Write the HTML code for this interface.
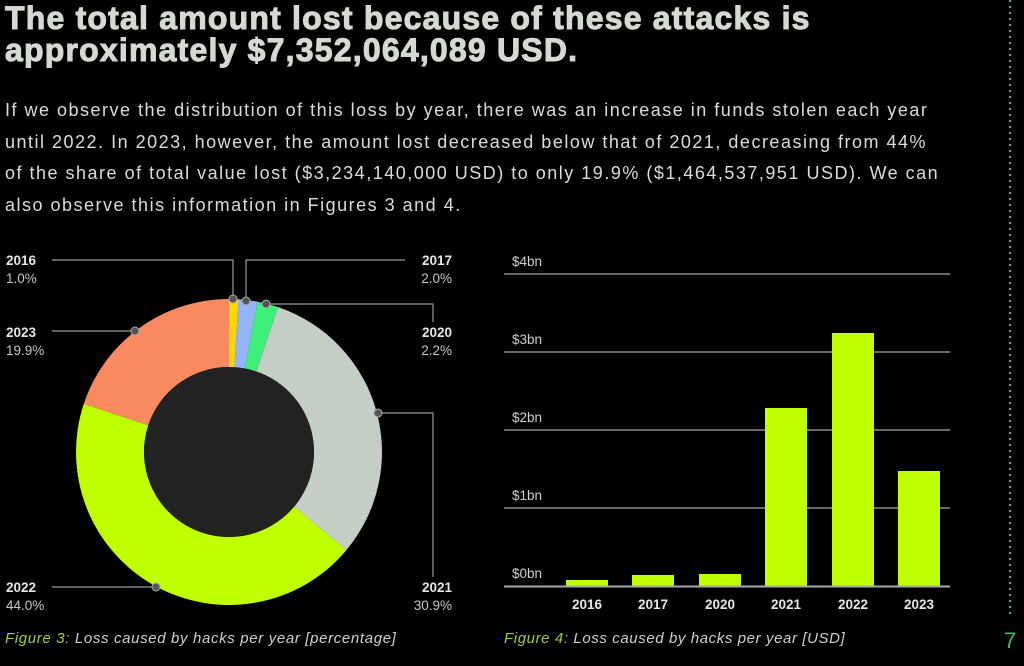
<!DOCTYPE html>
<html><head><meta charset="utf-8"><style>
body{margin:0;width:1024px;height:666px;background:#000;overflow:hidden;position:relative;font-family:"Liberation Sans",sans-serif}
h1{position:absolute;left:5px;top:2px;margin:0;font-size:32px;line-height:32px;font-weight:900;color:#d4d9d2;letter-spacing:1.2px;-webkit-text-stroke:1px #d4d9d2;white-space:nowrap}
p{position:absolute;left:5px;top:95px;margin:0;width:1000px;font-size:18px;line-height:31.5px;color:#dcdcdc;letter-spacing:1.5px;white-space:nowrap}
svg{position:absolute;left:0;top:0}
</style></head><body>
<h1>The total amount lost because of these attacks is<br>approximately $7,352,064,089 USD.</h1>
<p>If we observe the distribution of this loss by year, there was an increase in funds stolen each year<br>until 2022. In 2023, however, the amount lost decreased below that of 2021, decreasing from 44%<br>of the share of total value lost ($3,234,140,000 USD) to only 19.9% ($1,464,537,951 USD). We can<br>also observe this information in Figures 3 and 4.</p>
<svg width="1024" height="666" font-family="Liberation Sans, sans-serif">
<line x1="1010" y1="0" x2="1010" y2="615" stroke="#3fbf5a" stroke-width="2" stroke-dasharray="2 4"/>
<text x="1010" y="648" fill="#3fbf5a" font-size="22" text-anchor="middle">7</text>
<path d="M229,299 A153,153 0 0 1 238.6,299.3 L234.3,367.2 A85,85 0 0 0 229,367 Z" fill="#ffd800"/>
<path d="M238.6,299.3 A153,153 0 0 1 257.7,301.7 L244.9,368.5 A85,85 0 0 0 234.3,367.2 Z" fill="#94b4f8"/>
<path d="M257.7,301.7 A153,153 0 0 1 278.1,307.1 L256.3,371.5 A85,85 0 0 0 244.9,368.5 Z" fill="#3ef07a"/>
<path d="M278.1,307.1 A153,153 0 0 1 346.4,550.1 L294.2,506.5 A85,85 0 0 0 256.3,371.5 Z" fill="#c5cec5"/>
<path d="M346.4,550.1 A153,153 0 0 1 83.8,403.8 L148.3,425.2 A85,85 0 0 0 294.2,506.5 Z" fill="#bfff00"/>
<path d="M83.8,403.8 A153,153 0 0 1 229,299 L229,367 A85,85 0 0 0 148.3,425.2 Z" fill="#f98a60"/>
<circle cx="229" cy="452" r="85" fill="#222"/>
<g stroke="#999" stroke-width="1.2" fill="none">
<polyline points="52,260 233,260 233,299"/>
<polyline points="405,260 246,260 246,301"/>
<polyline points="266,304 433,304 433,322"/>
<polyline points="52,331 135,331"/>
<polyline points="378,413 433,413 433,577"/>
<polyline points="52,587 156,587"/>
</g>
<g fill="#555" stroke="#aaa" stroke-width="1">
<circle cx="233" cy="299" r="4"/><circle cx="246" cy="301" r="4"/><circle cx="266" cy="304" r="4"/>
<circle cx="135" cy="331" r="4"/><circle cx="378" cy="413" r="4"/><circle cx="156" cy="587" r="4"/>
</g>
<g font-size="13.5" fill="#e6e6e6">
<text x="6" y="265" font-weight="bold">2016</text><text x="6" y="283" fill="#c8c8c8">1.0%</text>
<text x="452" y="265" font-weight="bold" text-anchor="end">2017</text><text x="452" y="283" fill="#c8c8c8" text-anchor="end">2.0%</text>
<text x="6" y="337" font-weight="bold">2023</text><text x="6" y="355" fill="#c8c8c8">19.9%</text>
<text x="452" y="337" font-weight="bold" text-anchor="end">2020</text><text x="452" y="355" fill="#c8c8c8" text-anchor="end">2.2%</text>
<text x="6" y="592" font-weight="bold">2022</text><text x="6" y="610" fill="#c8c8c8">44.0%</text>
<text x="452" y="592" font-weight="bold" text-anchor="end">2021</text><text x="452" y="610" fill="#c8c8c8" text-anchor="end">30.9%</text>
</g>
<text x="5" y="643" font-size="15" font-style="italic" fill="#d0d0d0" letter-spacing="0.65"><tspan fill="#9fd12c">Figure 3:</tspan> Loss caused by hacks per year [percentage]</text>
<text x="504" y="643" font-size="15" font-style="italic" fill="#d0d0d0" letter-spacing="0.6"><tspan fill="#9fd12c">Figure 4:</tspan> Loss caused by hacks per year [USD]</text>
<g stroke="#8a8a8a" stroke-width="1.5">
<line x1="504" y1="274" x2="950" y2="274"/><line x1="504" y1="352" x2="950" y2="352"/>
<line x1="504" y1="430" x2="950" y2="430"/><line x1="504" y1="508" x2="950" y2="508"/>
</g>
<g font-size="13.5" fill="#d0d0d0">
<text x="512" y="266">$4bn</text><text x="512" y="344">$3bn</text><text x="512" y="422">$2bn</text><text x="512" y="500">$1bn</text><text x="512" y="578">$0bn</text>
</g>
<g fill="#bfff00">
<rect x="566" y="580" width="42" height="6"/><rect x="632" y="575" width="42" height="11"/>
<rect x="699" y="574" width="42" height="12"/><rect x="765" y="408" width="42" height="178"/>
<rect x="832" y="333" width="42" height="253"/><rect x="898" y="471" width="42" height="115"/>
</g>
<line x1="504" y1="586.5" x2="950" y2="586.5" stroke="#aaa" stroke-width="2"/>
<g font-size="13.5" font-weight="bold" fill="#e6e6e6" text-anchor="middle">
<text x="587" y="609">2016</text><text x="653" y="609">2017</text><text x="720" y="609">2020</text>
<text x="786" y="609">2021</text><text x="853" y="609">2022</text><text x="919" y="609">2023</text>
</g>
</svg>
</body></html>
